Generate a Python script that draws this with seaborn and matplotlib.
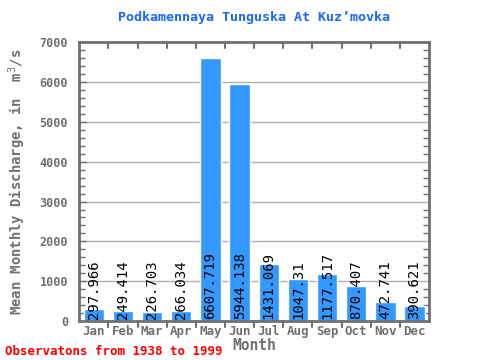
import matplotlib
matplotlib.use("Agg")
import matplotlib.pyplot as plt
import seaborn as sns
import pandas as pd
from matplotlib.ticker import MultipleLocator

months = ["Jan", "Feb", "Mar", "Apr", "May", "Jun", "Jul", "Aug", "Sep", "Oct", "Nov", "Dec"]
values = [297.966, 249.414, 226.703, 266.034, 6607.719, 5944.138, 1431.069, 1047.31, 1177.517, 870.407, 472.741, 390.621]
labels = ["297.966", "249.414", "226.703", "266.034", "6607.719", "5944.138", "1431.069", "1047.31", "1177.517", "870.407", "472.741", "390.621"]
yticks = [0, 1000, 2000, 3000, 4000, 5000, 6000, 7000]

sns.set_style("white")
plt.rcParams['font.family'] = ['DejaVu Sans Mono']

df = pd.DataFrame({"Month": months, "Value": values})

fig = plt.figure(figsize=(4.8, 3.6), dpi=100)
ax = fig.add_axes([0.165, 0.108, 0.729, 0.775])

grey = "#707070"
for y in yticks[1:-1]:
    ax.axhline(y, color="#b0b0b0", lw=1, zorder=0)

sns.barplot(data=df, x="Month", y="Value", color="#3399ff", saturation=1, width=0.7, ax=ax, zorder=2)

for i, lab in enumerate(labels):
    ax.text(i, 60, lab, rotation=90, ha="center", va="bottom", fontsize=10, color="black", zorder=3)

ax.set_ylim(0, 7000)
ax.set_xlim(-0.5, 11.5)
ax.set_yticks(yticks)
ax.set_yticklabels([str(v) for v in yticks], fontsize=8.5, color=grey, fontweight="bold")
ax.yaxis.set_minor_locator(MultipleLocator(200))
ax.set_xticks(range(12))
ax.set_xticklabels(months, fontsize=9, color=grey, fontweight="bold")

for s in ax.spines.values():
    s.set_color(grey)
    s.set_linewidth(2)

ax.tick_params(axis="y", which="major", direction="in", length=0, left=True, right=True, width=1, color=grey, pad=8)
ax.tick_params(axis="y", which="minor", direction="in", length=4, left=True, right=True, width=1, color=grey)
ax.tick_params(axis="x", which="major", length=0, pad=3)
for xb in [i + 0.5 for i in range(11)]:
    ax.plot([xb, xb], [6850, 7000], color=grey, lw=1.5, zorder=4, clip_on=False)
    ax.plot([xb, xb], [0, -150], color=grey, lw=1.5, zorder=4, clip_on=False)
for yb in yticks[1:-1]:
    ax.plot([-0.5, -0.25], [yb, yb], color=grey, lw=1, zorder=4)

ax.set_xlabel("Month", fontsize=10.5, color=grey, fontweight="bold", labelpad=0)
ax.set_ylabel("Mean Monthly Discharge, in  m$^{3}$/s", fontsize=10, color=grey, fontweight="bold", labelpad=8)
ax.set_title("Podkamennaya Tunguska At Kuz\u2019movka", fontsize=9.6, color="#1a66ff", fontweight="bold", pad=15)

fig.text(0.01, 0.015, "Observatons from 1938 to 1999", fontsize=9, color="red", fontweight="bold")

fig.savefig("out.png", dpi=100)
